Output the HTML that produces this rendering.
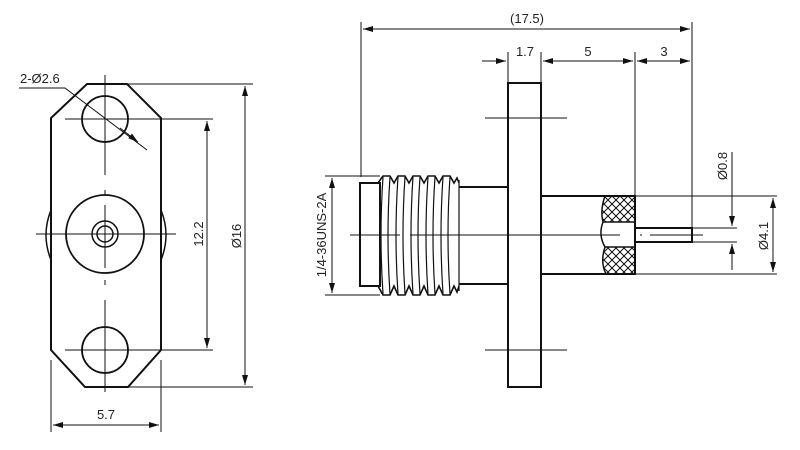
<!DOCTYPE html>
<html><head><meta charset="utf-8"><style>
html,body{margin:0;padding:0;background:#fff}
svg{display:block}
text{font-family:"Liberation Sans",sans-serif;font-size:13px;fill:#222;stroke:none}
</style></head><body>
<svg width="800" height="450" viewBox="0 0 800 450" xmlns="http://www.w3.org/2000/svg">
<defs>
<marker id="a" viewBox="0 0 10 6" refX="10" refY="3" markerWidth="10" markerHeight="6" markerUnits="userSpaceOnUse" orient="auto"><path d="M0,0L10,3L0,6z" fill="#111" stroke="none"/></marker>
<pattern id="h" width="8" height="8" patternUnits="userSpaceOnUse"><path d="M0,0L8,8M8,0L0,8" stroke="#111" stroke-width="1"/></pattern>
</defs>
<g stroke="#111" fill="none">
<!-- LEFT VIEW -->
<path d="M87,84L127,84L161,118L161,350L128,387L85,387L51,350L51,118Z" stroke-width="2"/>
<circle cx="105" cy="119" r="23" stroke-width="1.8"/>
<circle cx="105" cy="350" r="23" stroke-width="1.8"/>
<circle cx="105" cy="234" r="39" stroke-width="1.8"/>
<circle cx="105" cy="234" r="13" stroke-width="1.5"/>
<circle cx="105" cy="234" r="8" stroke-width="1.5"/>
<path d="M51,210Q41,235 51,260M161,210Q171,235 161,260" stroke-width="1.5"/>
<path d="M105,75V175M105,190V195M105,205V268M105,280V285M105,300V392M36,234H176M65,119H213M65,350H213" stroke-width="1"/>
<path d="M127,84H253M128,387H253M51,360V432M161,360V432" stroke-width="1"/>
<g stroke-width="1" marker-end="url(#a)">
<path d="M207,234V121"/><path d="M207,234V348"/>
<path d="M245,234V86"/><path d="M245,234V385"/>
<path d="M106,425H53"/><path d="M106,425H159"/>
</g>
<path d="M19,88H65L147,150" stroke-width="1"/>
<path d="M120,128L138,142" stroke-width="1" marker-end="url(#a)"/>
<text x="20" y="83">2-Ø2.6</text>
<text x="106" y="419" text-anchor="middle">5.7</text>
<text transform="translate(203,234) rotate(-90)" text-anchor="middle">12.2</text>
<text transform="translate(241,236) rotate(-90)" text-anchor="middle">Ø16</text>
<!-- RIGHT VIEW -->
<rect x="508" y="83" width="33" height="304" stroke-width="2"/>
<path d="M485,118H567M485,350H567" stroke-width="1"/>
<rect x="360" y="183" width="20" height="103" stroke-width="2"/>
<path d="M378,183L383,176L390,176L394,183L398,176L405,176L409,183L413,176L420,176L424,183L428,176L435,176L439,183L443,176L450,176L454,183L457,178L459,183M378,286L383,295L390,295L394,286L398,295L405,295L409,286L413,295L420,295L424,286L428,295L435,295L439,286L443,295L450,295L454,286L457,292L459,286" stroke-width="1.6"/>
<path d="M383,177Q379,235 383,294M390,177Q386,235 390,294M398,177Q394,235 398,294M405,177Q401,235 405,294M413,177Q409,235 413,294M420,177Q416,235 420,294M428,177Q424,235 428,294M435,177Q431,235 435,294M443,177Q439,235 443,294M450,177Q446,235 450,294M459,180V291" stroke-width="1.2"/>
<path d="M459,187H508M459,284H508" stroke-width="2"/>
<path d="M541,196H635V274H541" stroke-width="2"/>
<path d="M605,196H635V222H603Q600,210 605,196Z" fill="url(#h)" stroke-width="1.5"/>
<path d="M605,247H635V274H606Q600,262 605,247Z" fill="url(#h)" stroke-width="1.5"/>
<path d="M603,222Q598,235 605,247" stroke-width="1.5"/>
<rect x="635" y="228" width="57" height="14" stroke-width="2"/>
<path d="M350,235H400M410,235H620M640,235H642M650,235H703" stroke-width="1"/>
<path d="M361,22V177M692,22V243M508,52V83M541,52V83M635,52V196M325,176H380M325,295H380M692,228H737M692,242H737M635,196H777M541,274H777" stroke-width="1"/>
<g stroke-width="1" marker-end="url(#a)">
<path d="M527,29H363"/><path d="M527,29H690"/>
<path d="M664,61H637"/><path d="M664,61H690"/>
<path d="M588,61H543"/><path d="M588,61H633"/>
<path d="M482,61H506"/>
<path d="M332,235V178"/><path d="M332,235V293"/>
<path d="M773,235V198"/><path d="M773,235V272"/>
<path d="M732,152V226"/>
<path d="M732,270V244"/>
</g>
<text x="527" y="23" text-anchor="middle">(17.5)</text>
<text x="525" y="56" text-anchor="middle">1.7</text>
<text x="588" y="56" text-anchor="middle">5</text>
<text x="664" y="56" text-anchor="middle">3</text>
<text transform="translate(326,235) rotate(-90)" text-anchor="middle">1/4-36UNS-2A</text>
<text transform="translate(727,166) rotate(-90)" text-anchor="middle">Ø0.8</text>
<text transform="translate(768,236) rotate(-90)" text-anchor="middle">Ø4.1</text>
</g>
</svg>
</body></html>
